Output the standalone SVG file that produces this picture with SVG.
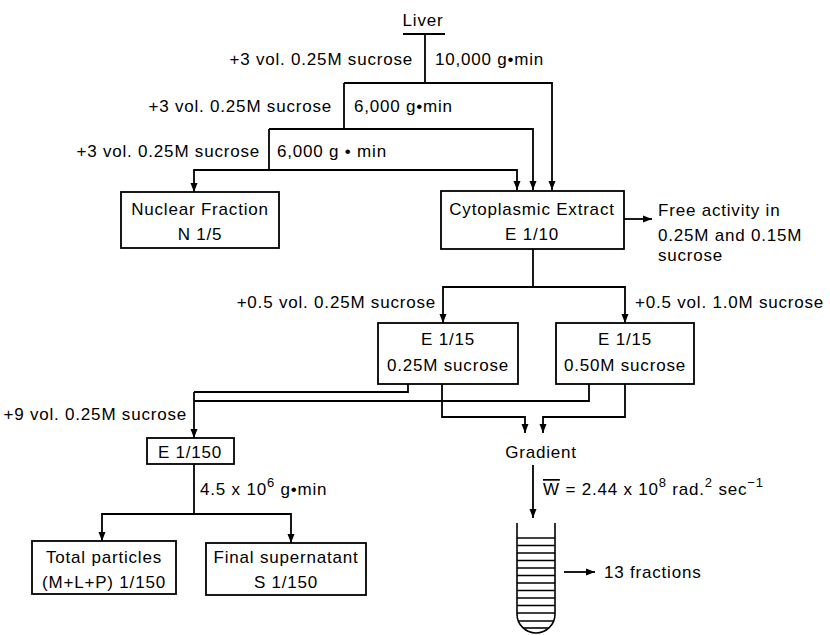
<svg xmlns="http://www.w3.org/2000/svg" width="830" height="635" viewBox="0 0 830 635">
<defs>
<marker id="ah" markerUnits="userSpaceOnUse" markerWidth="10" markerHeight="8" refX="9" refY="4" orient="auto">
<path d="M0,0.5 L9,4 L0,7.5 z" fill="#000"/>
</marker>
<style>
text{font-family:"Liberation Sans",Arial,sans-serif;font-size:17px;letter-spacing:0.8px;fill:#000}
.m{text-anchor:middle}
.e{text-anchor:end}
.box{fill:#fff;stroke:#000;stroke-width:1.8}
.c path{fill:none;stroke:#000;stroke-width:1.8}
.a{marker-end:url(#ah)}
.tube line,.tube path{fill:none;stroke:#000;stroke-width:1.6}
</style>
</defs>
<rect width="830" height="635" fill="#fff"/>

<g id="connectors" class="c">
<path d="M403,34 H445"/>
<path d="M425,34 V83"/>
<path class="a" d="M344,83 H552 V190"/>
<path d="M344,83 V129"/>
<path class="a" d="M269,129 H533 V190"/>
<path d="M269,129 V170"/>
<path class="a" d="M269,170 H517 V190"/>
<path class="a" d="M269,170 H194 V192"/>
<path class="a" d="M624,219 H652"/>
<path d="M533,249 V287"/>
<path class="a" d="M533,287 H443 V323"/>
<path class="a" d="M533,287 H625 V323"/>
<path d="M408,384 V392 H194"/>
<path d="M589,384 V401 H194"/>
<path class="a" d="M194,392 V438"/>
<path class="a" d="M442,384 V417 H525 V433"/>
<path class="a" d="M625,384 V417 H543 V433"/>
<path d="M194,464 V514"/>
<path class="a" d="M194,514 H102 V541"/>
<path class="a" d="M194,514 H291 V543"/>
<path class="a" d="M533,465 V518"/>
<path class="a" d="M564,572 H595"/>
</g>

<g id="liver">
<text class="m" x="423" y="26">Liver</text>
</g>

<g id="step1-labels">
<text class="e" x="413" y="65">+3 vol. 0.25M  sucrose</text>
<text x="435" y="65">10,000 g•min</text>
</g>
<g id="step2-labels">
<text class="e" x="332" y="112">+3 vol. 0.25M  sucrose</text>
<text x="354" y="112">6,000 g•min</text>
</g>
<g id="step3-labels">
<text class="e" x="260" y="157">+3 vol. 0.25M  sucrose</text>
<text x="277" y="157">6,000 g • min</text>
</g>

<g id="nuclear">
<rect class="box" x="121" y="192" width="158" height="56"/>
<text class="m" x="200" y="215">Nuclear Fraction</text>
<text class="m" x="200" y="240">N 1/5</text>
</g>

<g id="cytoplasmic">
<rect class="box" x="441" y="191" width="183" height="58"/>
<text class="m" x="532" y="215">Cytoplasmic Extract</text>
<text class="m" x="532" y="240">E 1/10</text>
</g>

<g id="free-activity">
<text x="658" y="216">Free activity in</text>
<text x="658" y="241">0.25M and 0.15M</text>
<text x="658" y="261">sucrose</text>
</g>

<g id="split-labels">
<text class="e" x="436" y="308">+0.5 vol. 0.25M sucrose</text>
<text x="635" y="308">+0.5 vol. 1.0M sucrose</text>
</g>

<g id="e15-025">
<rect class="box" x="378" y="323" width="140" height="61"/>
<text class="m" x="448" y="345">E 1/15</text>
<text class="m" x="448" y="371">0.25M sucrose</text>
</g>

<g id="e15-050">
<rect class="box" x="556" y="323" width="138" height="61"/>
<text class="m" x="625" y="345">E 1/15</text>
<text class="m" x="625" y="371">0.50M sucrose</text>
</g>

<g id="dilution-label">
<text class="e" x="187" y="420">+9 vol. 0.25M sucrose</text>
</g>

<g id="e150">
<rect class="box" x="147" y="438" width="87" height="26"/>
<text class="m" x="190" y="458">E 1/150</text>
</g>

<g id="spin-label">
<text x="200" y="495">4.5 x 10<tspan dy="-8" font-size="13">6</tspan><tspan dy="8"> g•min</tspan></text>
</g>

<g id="total-particles">
<rect class="box" x="32" y="541" width="144" height="53"/>
<text class="m" x="104" y="563">Total particles</text>
<text class="m" x="104" y="588">(M+L+P) 1/150</text>
</g>

<g id="final-supernatant">
<rect class="box" x="206" y="543" width="160" height="52"/>
<text class="m" x="286" y="563">Final supernatant</text>
<text class="m" x="286" y="588">S 1/150</text>
</g>

<g id="gradient">
<text class="m" x="541" y="458">Gradient</text>
</g>

<g id="omega-label">
<text x="543" y="495"><tspan text-decoration="overline">W</tspan> = 2.44 x 10<tspan dy="-8" font-size="13">8</tspan><tspan dy="8"> rad.</tspan><tspan dy="-8" font-size="13">2</tspan><tspan dy="8"> sec</tspan><tspan dy="-8" font-size="13">−1</tspan></text>
</g>

<g id="tube" class="tube">
<path d="M517,523 V614 A19,19 0 0 0 555,614 V523"/>
<line x1="517" y1="538" x2="555" y2="538"/>
<line x1="517" y1="545.5" x2="555" y2="545.5"/>
<line x1="517" y1="553" x2="555" y2="553"/>
<line x1="517" y1="560.5" x2="555" y2="560.5"/>
<line x1="517" y1="568" x2="555" y2="568"/>
<line x1="517" y1="575.5" x2="555" y2="575.5"/>
<line x1="517" y1="583" x2="555" y2="583"/>
<line x1="517" y1="590.5" x2="555" y2="590.5"/>
<line x1="517" y1="598" x2="555" y2="598"/>
<line x1="517" y1="605.5" x2="555" y2="605.5"/>
<line x1="517" y1="613" x2="555" y2="613"/>
<line x1="518.5" y1="621" x2="553.5" y2="621"/>
<line x1="523" y1="628" x2="549" y2="628"/>
</g>

<g id="fractions">
<text x="604" y="578">13 fractions</text>
</g>
</svg>
